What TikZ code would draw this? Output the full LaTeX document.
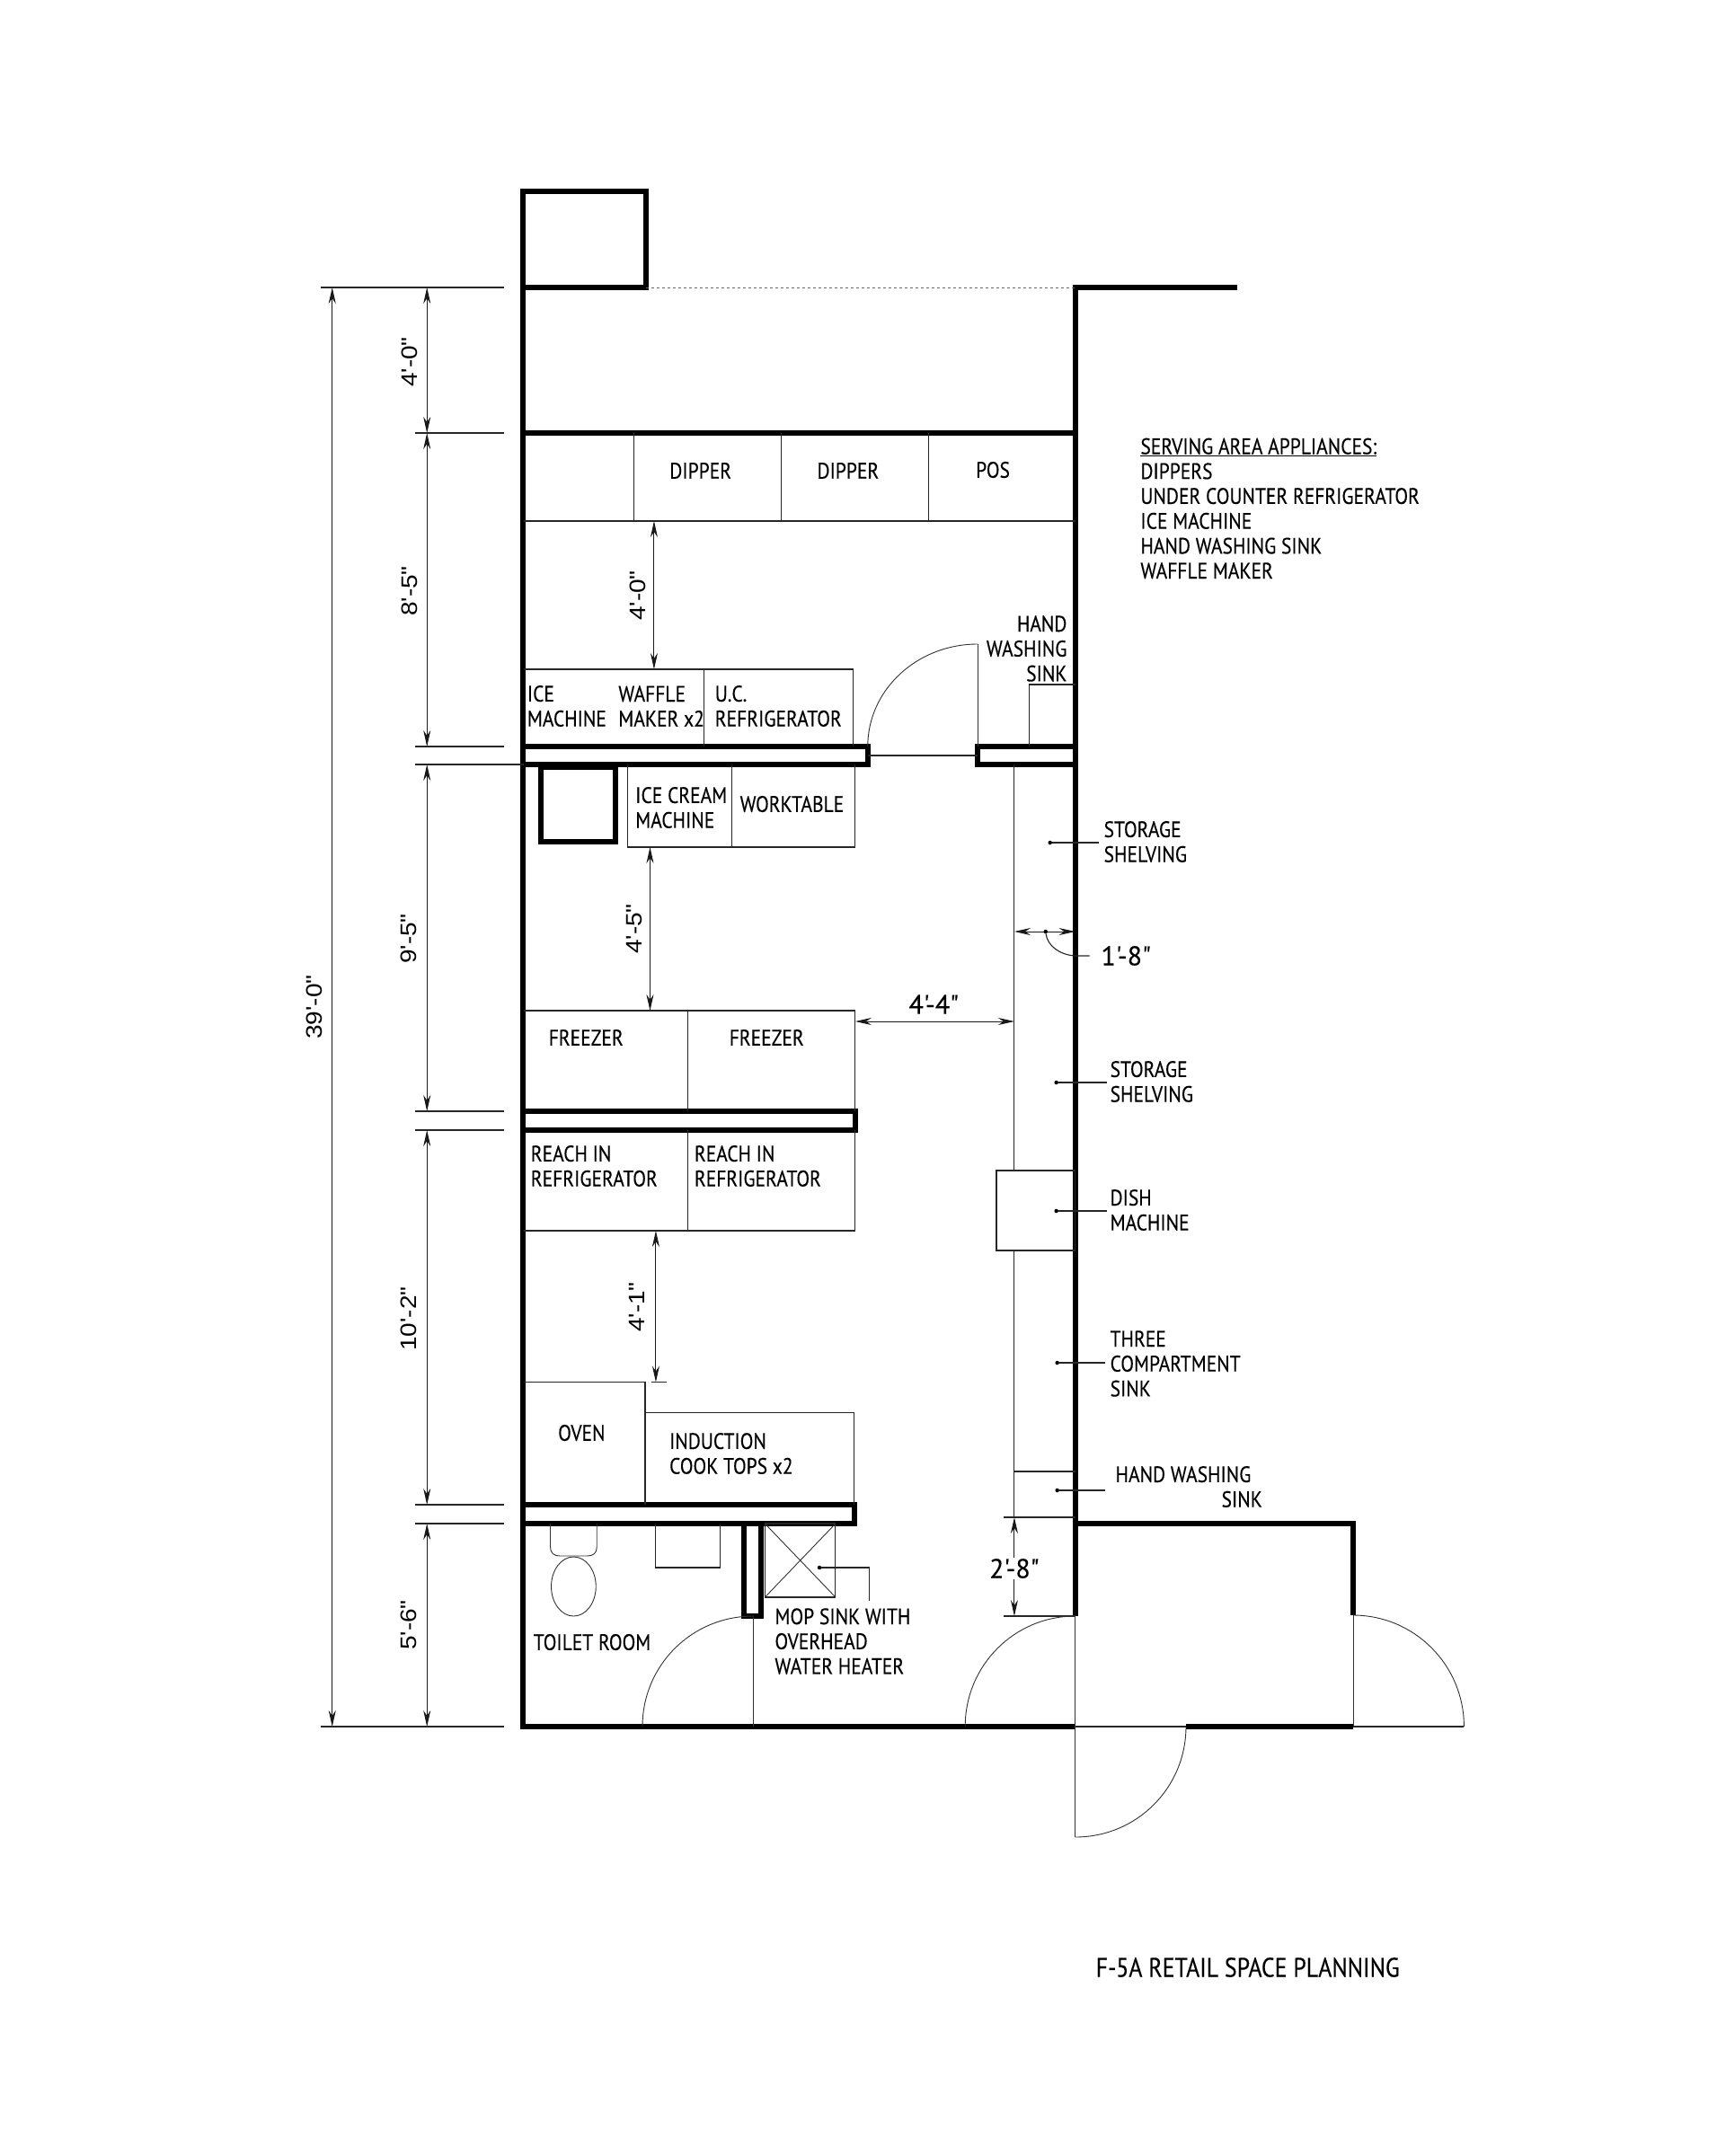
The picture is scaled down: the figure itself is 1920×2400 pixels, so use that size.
\documentclass[tikz,border=0pt]{standalone}
\usepackage{fontspec}
\usetikzlibrary{arrows.meta}
\newfontfamily\planfont[FakeStretch=0.86,FakeBold=0.2]{PT Sans}
\newfontfamily\dimfont[FakeStretch=1.12]{Liberation Sans}
\newfontfamily\dimnarrow[FakeBold=0.2]{PT Sans}
\tikzset{
  wall/.style={line width=5.8pt,line join=miter,line cap=butt},
  thinline/.style={line width=1.1pt,black!85},
  hair/.style={line width=0.9pt,black!80},
  dimline/.style={line width=1pt,black!90,{Stealth[length=18pt,width=8pt]}-{Stealth[length=18pt,width=8pt]}},
  lab/.style={font=\planfont\fontsize{25}{27.7}\selectfont,align=left,inner sep=0pt,anchor=west},
  labr/.style={font=\planfont\fontsize{25}{27.7}\selectfont,align=right,inner sep=0pt,anchor=east},
  dimlab/.style={font=\dimfont\fontsize{25}{28}\selectfont,inner sep=0pt,rotate=90},
  dimh/.style={font=\dimnarrow\fontsize{30}{32}\selectfont,inner sep=0pt},
  dot/.style={circle,fill=black,inner sep=0pt,minimum size=4.5pt}
}
\begin{document}
\begin{tikzpicture}[x=1pt,y=-1pt]
\useasboundingbox (0,0) rectangle (1920,2400);
\fill[white] (0,0) rectangle (1920,2400);
\begin{scope}[x=0.995pt,xshift=1.6pt]
% walls
\draw[wall] (583,1922) -- (583,213) -- (721,213) -- (721,320) -- (583,320);
\draw[wall] (583,482) -- (1201,482);
\draw[wall] (1382,320) -- (1201,320) -- (1201,1799);
\draw[wall] (583,831) rectangle (969,851);
\draw[wall] (1092,831) rectangle (1201,851);
\draw[wall] (603.5,854) rectangle (687,937);
\draw[wall] (583,1237) rectangle (955,1258);
\draw[wall] (583,1675) rectangle (954,1696);
\draw[wall] (830.5,1696) -- (830.5,1799) -- (850,1799) -- (850,1696);
\draw[wall] (580,1922) -- (1201,1922);
\draw[wall] (1325,1922) -- (1512,1922);
\draw[wall] (1201,1696) -- (1512,1696) -- (1512,1798);
\draw[line width=1pt,black!60,dashed] (721,320) -- (1201,320);

% front counter
\draw[thinline] (584,580) -- (1201,580);
\draw[thinline] (707,482) -- (707,580) (872,482) -- (872,580) (1037,482) -- (1037,580);
% ice machine counter
\draw[thinline] (584,745) -- (953,745) -- (953,831);
\draw[thinline] (786,745) -- (786,831);
% door and sink
\draw[thinline] (969,841) -- (1092,841);
\draw[hair] (1092,831) -- (1092,717);
\draw[hair] (969,831) .. controls (969,768) and (1024,717) .. (1092,717);
\draw[thinline] (1150,831) -- (1150,762) -- (1201,762);
% ice cream table
\draw[thinline] (700,851) -- (700,943) -- (955,943) -- (955,851);
\draw[thinline] (817,851) -- (817,943);
% freezer
\draw[thinline] (584,1125) -- (955,1125) -- (955,1237);
\draw[thinline] (768,1125) -- (768,1237);
% reach in
\draw[thinline] (584,1370) -- (955,1370) -- (955,1258);
\draw[thinline] (768,1258) -- (768,1370);
% oven, induction
\draw[thinline] (584,1538.5) -- (720,1538.5) -- (720,1675);
\draw[thinline] (720,1572.5) -- (954,1572.5) -- (954,1675);
% shelving
\draw[thinline] (1133,851) -- (1133,1303);
\draw[thinline] (1133,1392) -- (1133,1689);
\draw[thinline] (1113,1303) rectangle (1201,1392);
\draw[thinline] (1133,1638) -- (1201,1638);
\draw[thinline] (1121,1689) -- (1201,1689);
\draw[thinline] (1121,1799) -- (1201,1799);
% toilet room
\draw[hair] (614,1696) -- (614,1722) .. controls (614,1729) and (618,1732) .. (625,1732) -- (655,1732) .. controls (662,1732) and (666,1729) .. (666,1722) -- (666,1696);
\draw[hair] (640,1766) ellipse [x radius=25,y radius=33];
\draw[thinline] (732,1696) -- (732,1745) -- (804,1745) -- (804,1696);
% mop sink
\draw[thinline] (854,1696) rectangle (933,1778);
\draw[hair] (854,1696) -- (933,1778) (933,1696) -- (854,1778);
% doors
\draw[hair] (841,1799) -- (841,1922);
\draw[hair] (717,1922) .. controls (717,1854) and (772,1799) .. (841,1799);
\draw[hair] (1201,1799) -- (1201,2045);
\draw[hair] (1078,1922) .. controls (1078,1854) and (1133,1799) .. (1201,1799);
\draw[thinline] (1201,1922) -- (1325,1922);
\draw[hair] (1325,1922) .. controls (1325,1990) and (1270,2045) .. (1201,2045);
\draw[hair] (1512,1798) -- (1512,1922);
\draw[thinline] (1512,1922) -- (1636,1922);
\draw[hair] (1512,1798) .. controls (1580,1798) and (1636,1853) .. (1636,1922);

% extension lines
\draw[thinline] (357,320) -- (562,320);
\draw[thinline] (463,482) -- (562,482);
\draw[thinline] (463,831) -- (562,831);
\draw[thinline] (463,851) -- (584,851);
\draw[thinline] (463,1237) -- (562,1237);
\draw[thinline] (463,1258) -- (562,1258);
\draw[thinline] (463,1675) -- (562,1675);
\draw[thinline] (463,1696) -- (562,1696);
\draw[thinline] (357,1922) -- (562,1922);
\draw[thinline] (727,1538.5) -- (744,1538.5);

% dimensions
\draw[dimline] (370,320) -- (370,1922);
\draw[dimline] (476,320) -- (476,482);
\draw[dimline] (476,482) -- (476,831);
\draw[dimline] (476,851) -- (476,1237);
\draw[dimline] (476,1258) -- (476,1675);
\draw[dimline] (476,1696) -- (476,1922);
\draw[dimline] (730,580) -- (730,745);
\draw[dimline] (725.5,943) -- (725.5,1125);
\draw[dimline] (732,1370) -- (732,1538.5);
\draw[dimline] (955,1137) -- (1133,1137);
\draw[dimline] (1133,1037) -- (1201,1037);
\draw[dimline] (1133,1689) -- (1133,1799);

\node[dimlab] (d1) at (350,1121) {39'-0"};
\node[dimlab] (d2) at (457,403) {4'-0"};
\node[dimlab] (d3) at (457,658) {8'-5"};
\node[dimlab] (d4) at (456,1045) {9'-5"};
\node[dimlab] (d5) at (456,1468) {10'-2"};
\node[dimlab] (d6) at (456,1809) {5'-6"};
\node[dimlab] (d7) at (712,663) {4'-0"};
\node[dimlab] (d8) at (708,1034) {4'-5"};
\node[dimlab] (d9) at (711,1455) {4'-1"};
\node[dimh] (d10) at (1043,1118) {4'-4"};
\node[dimh] (d11) at (1258,1064) {1'-8"};
\node[dimh,fill=white,inner sep=1pt] (d12) at (1133,1746) {2'-8"};

% leaders
\node[dot] (p1) at (1173,938) {};
\coordinate (q1) at (1228,938);
\draw[thinline] (p1) -- (q1);
\node[dot] (p2) at (1180,1205) {};
\coordinate (q2) at (1237,1205);
\draw[thinline] (p2) -- (q2);
\node[dot] (p3) at (1180,1348) {};
\coordinate (q3) at (1237,1348);
\draw[thinline] (p3) -- (q3);
\node[dot] (p4) at (1181,1517) {};
\coordinate (q4) at (1235,1517);
\draw[thinline] (p4) -- (q4);
\node[dot] (p5) at (1181,1659) {};
\coordinate (q5) at (1235,1659);
\draw[thinline] (p5) -- (q5);
\node[dot] (p6) at (1168,1037) {};
\draw[thinline] (p6) .. controls (1170,1053) and (1184,1063) .. (1201,1064) -- (1217,1064);
\node[dot] (p7) at (915,1745) {};
\draw[thinline] (p7) -- (971,1745) -- (971,1782);

% labels
\node[lab,anchor=center] (t1) at (782,524) {DIPPER};
\node[lab,anchor=center] (t2) at (947,524) {DIPPER};
\node[lab,anchor=center] (t3) at (1109,523) {POS};
\node[lab] (t4) at (1274,566) {\underline{SERVING AREA APPLIANCES:}\\DIPPERS\\UNDER COUNTER REFRIGERATOR\\ICE MACHINE\\HAND WASHING SINK\\WAFFLE MAKER};
\node[labr] (t5) at (1192,722) {HAND\\WASHING\\SINK};
\node[lab] (t6) at (588,786) {ICE\\MACHINE};
\node[lab] (t7) at (690,786) {WAFFLE\\MAKER x2};
\node[lab] (t8) at (798,786) {U.C.\\REFRIGERATOR};
\node[lab] (t9) at (709,899) {ICE CREAM\\MACHINE};
\node[lab] (t10) at (826,895) {WORKTABLE};
\node[lab] (t11) at (1233,937) {STORAGE\\SHELVING};
\node[lab] (t12) at (1240,1204) {STORAGE\\SHELVING};
\node[lab] (t13) at (612,1155) {FREEZER};
\node[lab] (t14) at (814,1155) {FREEZER};
\node[lab] (t15) at (592,1298) {REACH IN\\REFRIGERATOR};
\node[lab] (t16) at (775,1298) {REACH IN\\REFRIGERATOR};
\node[lab] (t17) at (1240,1347) {DISH\\MACHINE};
\node[lab] (t18) at (1240,1518) {THREE\\COMPARTMENT\\SINK};
\node[lab] (t19) at (1246,1655) {HAND WASHING\\\hspace*{118pt}SINK};
\node[lab,anchor=center] (t20) at (649,1595) {OVEN};
\node[lab] (t21) at (747,1618) {INDUCTION\\COOK TOPS x2};
\node[lab] (t22) at (595,1828) {TOILET ROOM};
\node[lab] (t23) at (865,1827) {MOP SINK WITH\\OVERHEAD\\WATER HEATER};
\node[lab,font=\planfont\fontsize{30}{32}\selectfont] (t24) at (1224,2190) {F-5A RETAIL SPACE PLANNING};
\end{scope}
\end{tikzpicture}
\end{document}
